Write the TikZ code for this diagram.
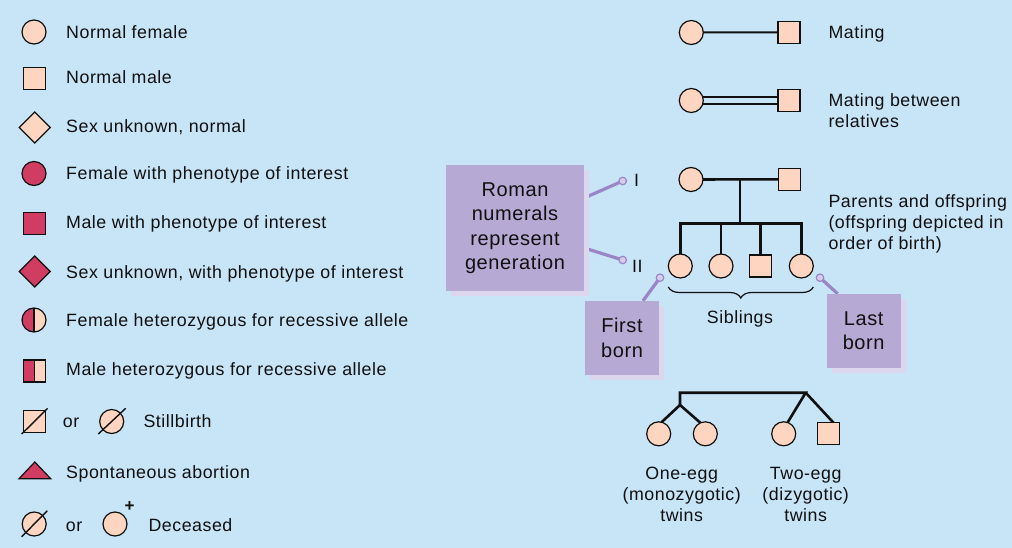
\documentclass[tikz,border=0pt]{standalone}
\usepackage{fontspec}
\setmainfont{Liberation Sans}[LetterSpace=3]
\usetikzlibrary{shapes.geometric,decorations.pathreplacing,shadows,calc}
\definecolor{bgc}{HTML}{C8E4F7}
\definecolor{peach}{HTML}{FDD5C0}
\definecolor{redc}{HTML}{D03C62}
\definecolor{boxc}{HTML}{B6A9D4}
\definecolor{shadowc}{HTML}{DCD7EE}
\definecolor{leaderc}{HTML}{9A85C6}
\definecolor{dotc}{HTML}{D6CDEB}
\definecolor{ink}{HTML}{101010}
\newcommand\pedlbl{\fontsize{17.8pt}{21pt}\selectfont}
\newcommand\pedbox{\fontsize{20pt}{24.4pt}\selectfont}
\pgfdeclarelayer{background}
\pgfdeclarelayer{connect}
\pgfsetlayers{background,connect,main}
\begin{document}
\begin{tikzpicture}[x=1pt,y=-1pt,
  sym/.style={draw=ink, line width=1.2pt, inner sep=0pt, outer sep=0pt},
  fem/.style={sym, circle, minimum size=24pt, fill=peach},
  mal/.style={sym, rectangle, minimum size=22pt, fill=peach},
  sexu/.style={sym, diamond, minimum size=31pt, fill=peach},
  aff/.style={fill=redc},
  halfaff/.style={path picture={
    \fill[redc] (path picture bounding box.north west) rectangle (path picture bounding box.south);
    \draw[draw=ink, line width=1.2pt] (path picture bounding box.north) -- (path picture bounding box.south);}},
  lbl/.style={anchor=base west, inner sep=0pt, font=\pedlbl, text=ink},
  slash/.style={draw=ink, line width=1.4pt},
  ped/.style={draw=ink, line width=2.6pt, line join=miter},
  mate/.style={draw=ink, line width=2pt},
  callout/.style={fill=boxc, inner sep=0pt, align=center, font=\pedbox, text=ink,
    drop shadow={shadow xshift=5pt, shadow yshift=-5pt, fill=shadowc, opacity=1}},
  leader/.style={draw=leaderc, line width=3.2pt},
  ldot/.style={circle, minimum size=7.5pt, inner sep=0pt, fill=dotc, draw=leaderc, line width=1.2pt},
]
\begin{pgfonlayer}{background}
  \fill[bgc] (0,0) rectangle (1012,548);
\end{pgfonlayer}
\useasboundingbox (0,0) rectangle (1012,548);

% ---------- legend of symbols ----------
\node[fem] (nf) at (34,32) {};
\node[lbl] (tnf) at (66,38.3) {Normal female};
\node[mal] (nm) at (34.5,78.5) {};
\node[lbl] (tnm) at (66,83.3) {Normal male};
\node[sexu] (nu) at (34.7,127.5) {};
\node[lbl] (tnu) at (66,132.7) {Sex unknown, normal};
\node[fem,aff] (af) at (34,173.5) {};
\node[lbl] (taf) at (66,180) {Female with phenotype of interest};
\node[mal,aff] (am) at (34.5,223.5) {};
\node[lbl] (tam) at (66,228.3) {Male with phenotype of interest};
\node[sexu,aff] (au) at (34.7,271.5) {};
\node[lbl] (tau) at (66,278.3) {Sex unknown, with phenotype of interest};
\node[fem,halfaff] (hf) at (34,320) {};
\node[lbl] (thf) at (66,326.7) {Female heterozygous for recessive allele};
\node[mal,halfaff] (hm) at (34.5,371) {};
\node[lbl] (thm) at (66,375.7) {Male heterozygous for recessive allele};

% stillbirth
\node[mal] (sbm) at (34.5,421.5) {};
\draw[slash] (21.7,434) -- (47.7,408.3);
\node[lbl] (or1) at (62.7,427.3) {or};
\node[fem] (sbf) at (111.7,421.5) {};
\draw[slash] (98.3,434) -- (125.7,408.3);
\node[lbl] (tsb) at (143.3,427.3) {Stillbirth};

% spontaneous abortion
\draw[sym, fill=redc] (19,478.7) -- (34.8,462) -- (50.7,478.7) -- cycle;
\node[lbl] (tab) at (66,478.3) {Spontaneous abortion};

% deceased
\node[fem] (dc1) at (34.2,524) {};
\draw[slash] (21.7,536.7) -- (47.3,510.7);
\node[lbl] (or2) at (65.7,531.7) {or};
\node[fem] (dc2) at (115,524) {};
\node[inner sep=0pt, font=\fontsize{17pt}{17pt}\selectfont\bfseries, text=ink] (plus) at (129.5,507) {+};
\node[lbl] (tdc) at (148.3,531.7) {Deceased};

% ---------- matings ----------
\node[fem] (m1f) at (691.3,32.5) {};
\node[mal] (m1m) at (789,32.3) {};
\node[lbl] (tm1) at (828.3,39) {Mating};
\node[fem] (m2f) at (691.3,100.5) {};
\node[mal] (m2m) at (789,100.5) {};
\node[anchor=north west, inner sep=0pt, font=\pedlbl, text=ink, align=left] (tm2) at (828.3,93.3) {Mating between\\relatives};
\begin{pgfonlayer}{connect}
  \draw[mate] (m1f.center) -- (m1m.center);
  \draw[mate, double=bgc, double distance=4.5pt] (m2f.center) -- (m2m.center);
\end{pgfonlayer}

% ---------- parents and offspring ----------
\node[fem] (pf) at (691,179.5) {};
\node[mal] (pm) at (789.5,179.3) {};
\coordinate (pmid) at (740,179.3);
\coordinate (sib) at (740,223.3);
\node[fem] (c1) at (680.3,266) {};
\node[fem] (c2) at (721,266) {};
\node[mal] (c3) at (760.3,266) {};
\node[fem] (c4) at (801.3,266) {};
\begin{pgfonlayer}{connect}
  \draw[ped] (pf.center) -- (pm.center);
  \draw[ped] (pmid) -- (sib);
  \draw[ped] (c1.center) -- (c1.center |- sib) -- (c4.center |- sib) -- (c4.center);
  \draw[ped] (c2.center |- sib) -- (c2.center);
  \draw[ped] (c3.center |- sib) -- (c3.center);
\end{pgfonlayer}
\node[anchor=north west, inner sep=0pt, font=\pedlbl, text=ink, align=left] (tpo) at (828.3,194.3)
  {Parents and offspring\\(offspring depicted in\\order of birth)};

% siblings brace
\coordinate (brl) at (668.3,287);
\coordinate (brr) at (813.3,287);
\draw[ink, line width=1.2pt, decorate, decoration={brace, mirror, amplitude=11pt}] (brl) -- (brr);
\node[lbl, anchor=base] (tsib) at (740,323.3) {Siblings};

% ---------- generation numerals and callouts ----------
\node[lbl] (g1) at (634,187) {I};
\node[lbl] (g2) at (632,272.5) {II};
\node[ldot] (d1) at (622.7,181) {};
\node[ldot] (d2) at (622.7,260) {};
\node[ldot] (d3) at (660,277.7) {};
\node[ldot] (d4) at (820,277.7) {};

\node[callout, minimum width=138pt, minimum height=126pt] (roman) at (515,228)
  {Roman\\numerals\\represent\\generation};
\node[callout, minimum width=74pt, minimum height=74pt] (firstb) at (622,338) {First\\born};
\node[callout, minimum width=74pt, minimum height=74pt] (lastb) at (863.7,331) {Last\\born};

\begin{pgfonlayer}{connect}
  \draw[leader] ([yshift=30pt]roman.east) -- (d1.center);
  \draw[leader] ([yshift=-20pt]roman.east) -- (d2.center);
  \draw[leader] ([xshift=21pt]firstb.north) -- (d3.center);
  \draw[leader] ([xshift=-26pt]lastb.north) -- (d4.center);
\end{pgfonlayer}

% ---------- twins ----------
\coordinate (tb1) at (680,392.7);
\coordinate (tb2) at (805.7,392.7);
\coordinate (tm) at (680,405);
\node[fem] (t1) at (658.7,433.8) {};
\node[fem] (t2) at (705.3,433.8) {};
\node[fem] (t3) at (783.7,433.8) {};
\node[mal] (t4) at (828.2,433.8) {};
\begin{pgfonlayer}{connect}
  \draw[ped] (t1.76) -- (tm) -- (t2.114);
  \draw[ped] (tm) -- (tb1) -- (tb2) -- (t3.71);
  \draw[ped] (tb2) -- (t4.64);
\end{pgfonlayer}
\node[anchor=north, inner sep=0pt, font=\pedlbl, text=ink, align=center] (tw1) at (681.7,467)
  {One-egg\\(monozygotic)\\twins};
\node[anchor=north, inner sep=0pt, font=\pedlbl, text=ink, align=center] (tw2) at (805.7,467)
  {Two-egg\\(dizygotic)\\twins};
\end{tikzpicture}
\end{document}
